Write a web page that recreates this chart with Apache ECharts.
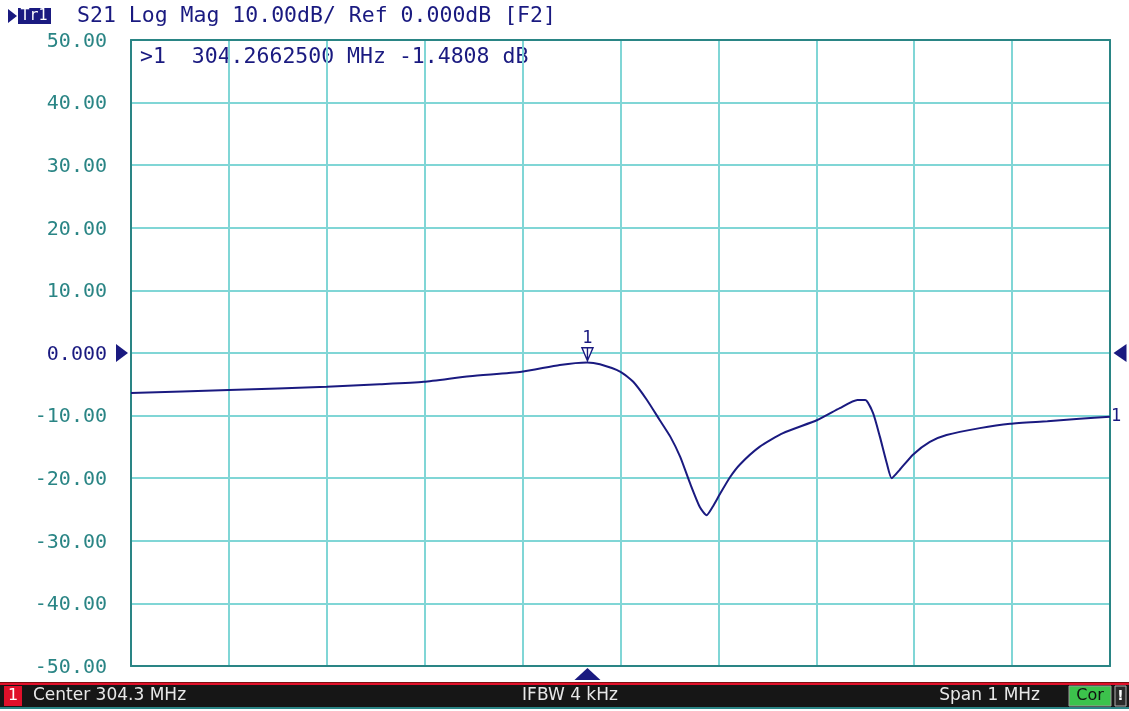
<!DOCTYPE html>
<html>
<head>
<meta charset="utf-8">
<script src="https://cdn.jsdelivr.net/npm/echarts@6/dist/echarts.min.js"></script>
<style>
  html, body { margin: 0; padding: 0; background: #fff; }
  #chart { width: 1129px; height: 711px; }
</style>
</head>
<body>
<div id="chart"></div>
<script>
// sweep settings
const centerMHz = 304.3
const spanMHz = 1

// S21 trace (MHz, dB)
const freqMHz = [
  303.800, 303.900, 304.000, 304.054, 304.099, 304.146, 304.199, 304.238, 304.266, 304.279,
  304.300, 304.313, 304.327, 304.340, 304.351, 304.361, 304.371, 304.381, 304.388, 304.394,
  304.402, 304.412, 304.422, 304.442, 304.466, 304.501, 304.524, 304.542, 304.550, 304.558,
  304.565, 304.572, 304.577, 304.585, 304.599, 304.616, 304.633, 304.667, 304.698, 304.736,
  304.769, 304.800
]
const s21dB = [
  -6.4, -5.9, -5.4, -5.0, -4.6, -3.7, -3.0, -1.9, -1.5, -1.8,
  -3.0, -4.6, -7.5, -10.7, -13.4, -16.6, -20.8, -24.6, -25.9, -24.6,
  -22.4, -19.8, -17.8, -15.0, -12.8, -10.7, -8.8, -7.5, -7.5, -9.6,
  -13.4, -17.6, -20.0, -18.7, -16.2, -14.2, -13.1, -12.0, -11.3, -10.9,
  -10.5, -10.2
]

// marker 1
const markerFreqMHz = 304.26625
const markerDB = -1.4808

// y scale: 10 dB/div, ref 0 dB
const yMin = -50
const yMax = 50
const yStep = 10

const navy = '#1a1a80'
const teal = '#2a8585'
const gridCyan = '#80d6d6'
const mono = 'DejaVu Sans Mono'
const sans = 'DejaVu Sans'

// x axis in kHz offset from center so ticks start on a whole interval
const toKHz = (f) => Math.round((f - centerMHz) * 1e6) / 1000
const traceData = freqMHz.map((f, i) => [toKHz(f), s21dB[i]])
const halfSpanKHz = (spanMHz * 1000) / 2

const frameLine = { show: true, onZero: false, lineStyle: { color: teal, width: 2 } }
const gridLine = { show: true, lineStyle: { color: gridCyan, width: 2 } }

const chart = echarts.init(document.getElementById('chart'), null, { renderer: 'canvas' })

const option = {
  backgroundColor: '#ffffff',
  animation: false,
  grid: {
    left: 131,
    right: 19,
    top: 40,
    bottom: 45
  },
  xAxis: [
    {
      type: 'value',
      min: -halfSpanKHz,
      max: halfSpanKHz,
      interval: 100,
      axisLabel: { show: false },
      axisTick: { show: false },
      axisLine: frameLine,
      splitLine: gridLine
    },
    {
      // top frame edge only
      type: 'value',
      position: 'top',
      min: -halfSpanKHz,
      max: halfSpanKHz,
      axisLabel: { show: false },
      axisTick: { show: false },
      axisLine: frameLine,
      splitLine: { show: false }
    }
  ],
  yAxis: [
    {
      type: 'value',
      min: yMin,
      max: yMax,
      interval: yStep,
      axisTick: { show: false },
      axisLine: frameLine,
      splitLine: gridLine,
      axisLabel: {
        margin: 24,
        formatter: (v) => (v === 0 ? '{ref|0.000}' : '{n|' + v.toFixed(2) + '}'),
        rich: {
          n: { color: teal, fontFamily: mono, fontSize: 20, padding: [3, 0, 0, 0] },
          ref: { color: navy, fontFamily: mono, fontSize: 20, padding: [3, 0, 0, 0] }
        }
      }
    },
    {
      // right frame edge only
      type: 'value',
      position: 'right',
      min: yMin,
      max: yMax,
      axisLabel: { show: false },
      axisTick: { show: false },
      axisLine: frameLine,
      splitLine: { show: false }
    }
  ],
  series: [
    {
      name: 'S21',
      type: 'line',
      data: traceData,
      smooth: 0.2,
      showSymbol: false,
      z: 5,
      lineStyle: { color: navy, width: 2 },
      itemStyle: { color: navy },
      endLabel: {
        show: true,
        formatter: '1',
        color: navy,
        fontFamily: mono,
        fontSize: 17,
        distance: 1
      },
      markPoint: {
        silent: true,
        label: { show: false },
        data: [
          {
            // marker 1 flag
            coord: [toKHz(markerFreqMHz), markerDB],
            symbol: 'path://M0,0 L10,0 L5,12 Z M5,0 L5,12',
            symbolSize: [11, 13],
            symbolOffset: [0, -8],
            itemStyle: { color: '#ffffff', borderColor: navy, borderWidth: 1.5 },
            label: {
              show: true,
              formatter: '1',
              position: 'top',
              distance: 0,
              color: navy,
              fontFamily: mono,
              fontSize: 17
            }
          },
          {
            // reference level arrow, left
            coord: [-halfSpanKHz, 0],
            symbol: 'triangle',
            symbolSize: [18, 12],
            symbolRotate: -90,
            symbolOffset: [-9, 0],
            itemStyle: { color: navy }
          },
          {
            // reference level arrow, right
            coord: [halfSpanKHz, 0],
            symbol: 'triangle',
            symbolSize: [18, 13],
            symbolRotate: 90,
            symbolOffset: [10, 0],
            itemStyle: { color: navy }
          },
          {
            // active marker position under the grid
            coord: [toKHz(markerFreqMHz), yMin],
            symbol: 'triangle',
            symbolSize: [26, 12],
            symbolOffset: [0, 8],
            itemStyle: { color: navy }
          }
        ]
      }
    }
  ],
  graphic: [
    // header line
    { type: 'polygon', shape: { points: [[8, 9], [17, 16], [8, 23]] }, style: { fill: navy } },
    { type: 'rect', shape: { x: 18, y: 8, width: 33, height: 16 }, style: { fill: navy } },
    {
      type: 'text', x: 34, y: 16,
      style: { text: 'Tr1', fill: '#ffffff', font: '15px ' + mono, align: 'center', verticalAlign: 'middle' }
    },
    {
      type: 'text', x: 77, y: 16,
      style: { text: 'S21 Log Mag 10.00dB/ Ref 0.000dB [F2]', fill: navy, font: '21.5px ' + mono, verticalAlign: 'middle' }
    },
    // marker readout
    {
      type: 'text', x: 140, y: 57,
      style: { text: '>1  304.2662500 MHz -1.4808 dB', fill: navy, font: '21.5px ' + mono, verticalAlign: 'middle' }
    },
    // status bar
    { type: 'rect', shape: { x: 0, y: 682, width: 1129, height: 1 }, style: { fill: '#7a1010' } },
    { type: 'rect', shape: { x: 0, y: 683, width: 1129, height: 2 }, style: { fill: '#e0102a' } },
    { type: 'rect', shape: { x: 0, y: 685, width: 1129, height: 22 }, style: { fill: '#161616' } },
    { type: 'rect', shape: { x: 0, y: 707, width: 1129, height: 2 }, style: { fill: teal } },
    { type: 'rect', shape: { x: 4, y: 686, width: 18, height: 20 }, style: { fill: '#e0102a' } },
    {
      type: 'text', x: 13, y: 696,
      style: { text: '1', fill: '#ffffff', font: '16px ' + sans, align: 'center', verticalAlign: 'middle' }
    },
    {
      type: 'text', x: 33, y: 696,
      style: { text: 'Center 304.3 MHz', fill: '#e8e8e8', font: '17px ' + sans, verticalAlign: 'middle' }
    },
    {
      type: 'text', x: 570, y: 696,
      style: { text: 'IFBW 4 kHz', fill: '#e8e8e8', font: '17px ' + sans, align: 'center', verticalAlign: 'middle' }
    },
    {
      type: 'text', x: 1040, y: 696,
      style: { text: 'Span 1 MHz', fill: '#e8e8e8', font: '17px ' + sans, align: 'right', verticalAlign: 'middle' }
    },
    { type: 'rect', shape: { x: 1069, y: 686, width: 42, height: 20 }, style: { fill: '#3cc24c', stroke: '#9a9a9a', lineWidth: 1 } },
    {
      type: 'text', x: 1090, y: 696,
      style: { text: 'Cor', fill: '#101010', font: '16px ' + sans, align: 'center', verticalAlign: 'middle' }
    },
    { type: 'rect', shape: { x: 1115, y: 686, width: 11, height: 20 }, style: { fill: '#2a2a2a', stroke: '#b0b0b0', lineWidth: 1 } },
    {
      type: 'text', x: 1120.5, y: 696,
      style: { text: '!', fill: '#ffffff', font: 'bold 14px ' + sans, align: 'center', verticalAlign: 'middle' }
    }
  ]
}

chart.setOption(option)
</script>
</body>
</html>
